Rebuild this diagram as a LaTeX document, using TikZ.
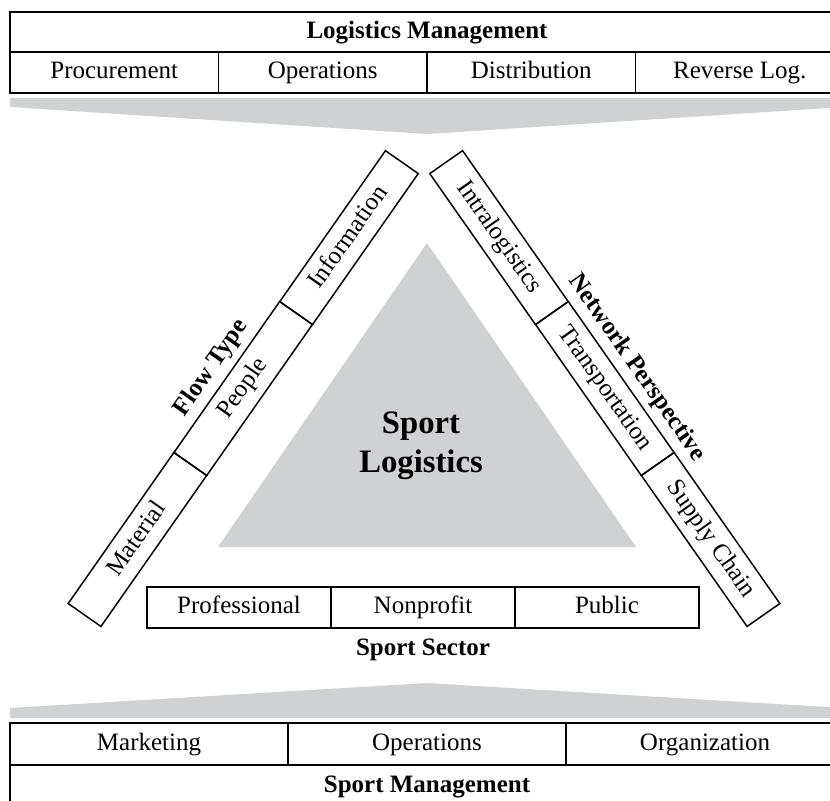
\documentclass[tikz,border=0pt]{standalone}
\usepackage{fontspec}
\setmainfont{Liberation Serif}
\usepackage{xcolor}
\usepackage{tikz}
\usetikzlibrary{calc}
\definecolor{wedgegray}{RGB}{208,209,210}

\begin{document}
\begin{tikzpicture}[x=0.75pt,y=-0.75pt,font=\fontsize{18.75}{22}\selectfont,
	cell/.style={draw,line width=1.1pt,inner sep=0pt,text height=12.5pt,text depth=3.5pt,minimum height=30.75pt},
	barcell/.style={cell,minimum width=138.2pt,minimum height=30pt},
	heading/.style={font=\fontsize{18.75}{22}\selectfont\bfseries}]
	\useasboundingbox (0,0) rectangle (830,800);
	\fill[wedgegray] (10,98) -- (844,98) -- (844,107) -- (427,134) -- (10,107) -- cycle;
	\fill[wedgegray] (10,718) -- (844,718) -- (844,708) -- (427,683) -- (10,708) -- cycle;
	\fill[wedgegray] (427,243) -- (636,547) -- (218,547) -- cycle;
	\node[cell,heading,minimum width=625.5pt,minimum height=30pt] (logman) at (427,32) {Logistics Management};
	\node[cell,minimum width=156.4pt] (procure) at (114.25,72.5) {Procurement};
	\node[cell,minimum width=156.4pt] (ops) at (322.75,72.5) {Operations};
	\node[cell,minimum width=156.4pt] (distrib) at (531.25,72.5) {Distribution};
	\node[cell,minimum width=156.4pt] (revlog) at (739.75,72.5) {Reverse Log.};
	\node[barcell,rotate=55] (material) at (137.4,539.5) {Material};
	\node[barcell,rotate=55] (people) at (243.2,388.5) {People};
	\node[barcell,rotate=55] (information) at (349,237.6) {Information};
	\node[heading,rotate=55] (flowtype) at (211.3,368) {Flow Type};
	\node[barcell,rotate=-55] (intralog) at (499,237.6) {Intralogistics};
	\node[barcell,rotate=-55] (transport) at (604.8,388.5) {Transportation};
	\node[barcell,rotate=-55] (supplych) at (710.6,539.5) {Supply Chain};
	\node[heading,rotate=-55] (netpersp) at (636.7,368) {Network Perspective};
	\node[align=center,font=\fontsize{24.5}{29}\selectfont\bfseries] (core) at (421,446) {Sport\\Logistics};
	\node[cell,minimum width=138pt] (professional) at (239,607.5) {Professional};
	\node[cell,minimum width=138pt] (nonprofit) at (423,607.5) {Nonprofit};
	\node[cell,minimum width=138pt] (public) at (607,607.5) {Public};
	\node[heading] (sector) at (423,650) {Sport Sector};
	\node[cell,minimum width=208.5pt,minimum height=31.5pt] (marketing) at (149,744) {Marketing};
	\node[cell,minimum width=208.5pt,minimum height=31.5pt] (sportops) at (427,744) {Operations};
	\node[cell,minimum width=208.5pt,minimum height=31.5pt] (organiz) at (705,744) {Organization};
	\node[cell,heading,minimum width=625.5pt,minimum height=31.5pt] (sportman) at (427,786) {Sport Management};
\end{tikzpicture}
\end{document}
